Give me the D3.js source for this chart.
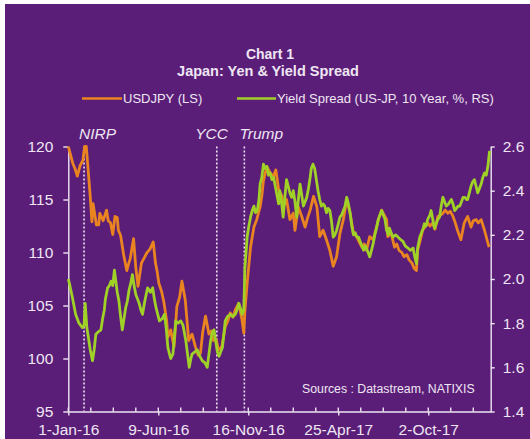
<!DOCTYPE html>
<html>
<head>
<meta charset="utf-8">
<script src="https://cdn.jsdelivr.net/npm/d3@7"></script>
<style>
  html, body { margin: 0; padding: 0; background: #5b1e78; }
  svg { display: block; }
  text { font-family: "Liberation Sans", Arial, sans-serif; }
</style>
</head>
<body>
<svg id="chart" width="530" height="439"></svg>
<script>
// ---------------- DATA ----------------
const titleLines = ["Chart 1", "Japan: Yen & Yield Spread"];
const seriesNames = ["USDJPY (LS)", "Yield Spread (US-JP, 10 Year, %, RS)"];
const sourceText = "Sources : Datastream, NATIXIS";

const usdDates = ["2016-01-01","2016-01-05","2016-01-09","2016-01-13","2016-01-17","2016-01-22","2016-01-27","2016-01-30","2016-02-02","2016-02-06","2016-02-09","2016-02-12","2016-02-14","2016-02-17","2016-02-20","2016-02-24","2016-02-26","2016-03-03","2016-03-09","2016-03-12","2016-03-16","2016-03-20","2016-03-24","2016-03-28","2016-03-30","2016-04-03","2016-04-08","2016-04-14","2016-04-17","2016-04-20","2016-04-26","2016-04-30","2016-05-04","2016-05-10","2016-05-15","2016-05-20","2016-05-25","2016-05-31","2016-06-04","2016-06-07","2016-06-10","2016-06-15","2016-06-19","2016-06-24","2016-06-26","2016-07-01","2016-07-07","2016-07-12","2016-07-17","2016-07-21","2016-07-27","2016-08-02","2016-08-08","2016-08-14","2016-08-19","2016-08-23","2016-08-27","2016-09-01","2016-09-07","2016-09-11","2016-09-15","2016-09-20","2016-09-24","2016-09-30","2016-10-06","2016-10-11","2016-10-15","2016-10-20","2016-10-24","2016-10-30","2016-11-05","2016-11-08","2016-11-10","2016-11-14","2016-11-20","2016-11-26","2016-12-01","2016-12-07","2016-12-10","2016-12-13","2016-12-19","2016-12-25","2016-12-31","2017-01-04","2017-01-09","2017-01-15","2017-01-17","2017-01-23","2017-01-29","2017-02-04","2017-02-07","2017-02-13","2017-02-19","2017-02-25","2017-03-01","2017-03-06","2017-03-12","2017-03-18","2017-03-23","2017-03-29","2017-04-04","2017-04-10","2017-04-16","2017-04-22","2017-04-28","2017-05-04","2017-05-10","2017-05-16","2017-05-22","2017-05-28","2017-06-01","2017-06-06","2017-06-10","2017-06-14","2017-06-20","2017-06-26","2017-07-02","2017-07-06","2017-07-11","2017-07-15","2017-07-20","2017-07-22","2017-07-28","2017-08-03","2017-08-07","2017-08-11","2017-08-16","2017-08-20","2017-08-25","2017-08-29","2017-09-03","2017-09-07","2017-09-11","2017-09-13","2017-09-17","2017-09-22","2017-09-26","2017-10-01","2017-10-05","2017-10-10","2017-10-14","2017-10-19","2017-10-23","2017-10-28","2017-11-01","2017-11-06","2017-11-10","2017-11-15","2017-11-19","2017-11-23","2017-11-29","2017-12-05","2017-12-11","2017-12-17","2017-12-21","2017-12-26","2017-12-30","2018-01-04","2018-01-10","2018-01-16","2018-01-18"];
const usdValues = [120.0,119.2,118.4,117.9,117.2,118.2,118.7,120.0,120.0,117.3,115.3,112.9,114.6,113.6,112.6,112.6,113.7,113.0,114.0,113.0,112.8,111.7,113.4,113.3,112.1,111.6,109.9,108.3,108.9,109.4,111.3,108.6,106.8,109.0,109.5,110.0,110.3,111.0,109.0,108.2,107.1,106.3,105.3,103.5,102.0,102.7,101.1,104.9,105.8,107.3,105.5,101.7,102.3,101.1,100.3,100.5,102.5,104.0,102.3,102.6,101.7,101.8,100.8,101.1,103.0,103.6,104.3,103.9,104.6,105.2,103.6,102.4,104.5,107.1,110.5,112.4,113.1,114.3,115.3,116.8,118.1,117.5,117.2,117.8,115.9,115.3,114.3,115.0,113.1,113.7,112.1,114.3,113.4,112.4,113.2,114.0,115.3,114.3,111.5,112.1,111.2,110.2,108.7,109.6,111.8,113.1,115.0,113.7,111.8,111.5,111.0,110.5,110.8,110.2,111.5,111.2,112.4,113.2,114.0,113.6,113.1,111.5,111.8,110.5,110.8,110.2,110.0,109.6,109.8,109.3,109.0,108.5,108.3,110.2,111.0,112.1,112.4,112.8,112.5,112.8,112.2,113.4,113.5,113.7,114.0,113.7,113.9,113.4,112.8,112.1,111.2,112.8,113.4,112.4,113.0,113.1,112.8,113.1,112.1,110.9,110.5];

const spreadDates = ["2016-01-01","2016-01-03","2016-01-08","2016-01-11","2016-01-14","2016-01-17","2016-01-20","2016-01-23","2016-01-26","2016-01-29","2016-01-31","2016-02-03","2016-02-06","2016-02-09","2016-02-13","2016-02-16","2016-02-19","2016-02-23","2016-02-28","2016-03-02","2016-03-05","2016-03-07","2016-03-11","2016-03-14","2016-03-17","2016-03-20","2016-03-23","2016-03-26","2016-03-28","2016-03-31","2016-04-03","2016-04-06","2016-04-09","2016-04-12","2016-04-15","2016-04-18","2016-04-21","2016-04-24","2016-04-27","2016-04-30","2016-05-03","2016-05-06","2016-05-09","2016-05-12","2016-05-16","2016-05-21","2016-05-26","2016-05-30","2016-06-02","2016-06-05","2016-06-08","2016-06-11","2016-06-16","2016-06-20","2016-06-23","2016-06-26","2016-06-29","2016-07-01","2016-07-05","2016-07-07","2016-07-10","2016-07-14","2016-07-19","2016-07-23","2016-07-28","2016-07-31","2016-08-03","2016-08-06","2016-08-08","2016-08-13","2016-08-17","2016-08-22","2016-08-26","2016-08-31","2016-09-04","2016-09-07","2016-09-10","2016-09-13","2016-09-16","2016-09-19","2016-09-22","2016-09-25","2016-09-28","2016-10-01","2016-10-04","2016-10-06","2016-10-10","2016-10-15","2016-10-19","2016-10-24","2016-10-27","2016-10-30","2016-11-03","2016-11-05","2016-11-08","2016-11-10","2016-11-12","2016-11-14","2016-11-17","2016-11-20","2016-11-23","2016-11-26","2016-11-29","2016-12-02","2016-12-05","2016-12-07","2016-12-10","2016-12-13","2016-12-16","2016-12-19","2016-12-22","2016-12-25","2016-12-28","2016-12-31","2017-01-03","2017-01-06","2017-01-09","2017-01-11","2017-01-14","2017-01-17","2017-01-20","2017-01-23","2017-01-26","2017-01-29","2017-02-01","2017-02-04","2017-02-07","2017-02-10","2017-02-13","2017-02-16","2017-02-19","2017-02-22","2017-02-25","2017-02-28","2017-03-03","2017-03-06","2017-03-08","2017-03-11","2017-03-14","2017-03-17","2017-03-20","2017-03-23","2017-03-26","2017-03-29","2017-04-01","2017-04-04","2017-04-07","2017-04-10","2017-04-13","2017-04-16","2017-04-19","2017-04-22","2017-04-25","2017-04-28","2017-05-01","2017-05-04","2017-05-07","2017-05-10","2017-05-13","2017-05-16","2017-05-19","2017-05-22","2017-05-25","2017-05-28","2017-05-31","2017-06-03","2017-06-06","2017-06-09","2017-06-12","2017-06-14","2017-06-17","2017-06-20","2017-06-23","2017-06-26","2017-06-29","2017-07-02","2017-07-05","2017-07-08","2017-07-11","2017-07-14","2017-07-17","2017-07-20","2017-07-23","2017-07-25","2017-07-28","2017-07-31","2017-08-05","2017-08-09","2017-08-13","2017-08-18","2017-08-22","2017-08-27","2017-08-31","2017-09-05","2017-09-08","2017-09-11","2017-09-13","2017-09-17","2017-09-20","2017-09-23","2017-09-25","2017-09-28","2017-10-01","2017-10-05","2017-10-07","2017-10-10","2017-10-13","2017-10-16","2017-10-19","2017-10-22","2017-10-25","2017-10-28","2017-10-31","2017-11-03","2017-11-07","2017-11-12","2017-11-15","2017-11-18","2017-11-21","2017-11-24","2017-11-27","2017-11-30","2017-12-03","2017-12-06","2017-12-09","2017-12-11","2017-12-14","2017-12-17","2017-12-20","2017-12-23","2017-12-26","2017-12-29","2018-01-01","2018-01-04","2018-01-07","2018-01-10","2018-01-13","2018-01-16","2018-01-19"];
const spreadValues = [2.00,1.98,1.92,1.88,1.84,1.82,1.80,1.79,1.78,1.79,1.89,1.78,1.73,1.68,1.63,1.68,1.75,1.76,1.77,1.82,1.86,1.91,1.96,1.97,1.99,1.97,2.04,1.98,1.94,1.90,1.83,1.77,1.82,1.87,1.90,1.95,1.98,2.02,1.97,1.93,1.91,1.89,1.86,1.84,1.90,1.96,1.94,1.96,1.91,1.87,1.84,1.81,1.82,1.84,1.78,1.69,1.66,1.64,1.66,1.72,1.81,1.80,1.81,1.79,1.72,1.66,1.60,1.64,1.66,1.67,1.68,1.65,1.63,1.62,1.60,1.66,1.72,1.76,1.77,1.72,1.67,1.65,1.67,1.69,1.76,1.81,1.83,1.84,1.83,1.84,1.86,1.89,1.86,1.84,1.86,2.05,2.12,2.19,2.24,2.28,2.31,2.33,2.30,2.31,2.36,2.43,2.46,2.52,2.50,2.51,2.47,2.48,2.45,2.46,2.42,2.38,2.34,2.40,2.35,2.28,2.37,2.45,2.42,2.39,2.37,2.40,2.35,2.28,2.36,2.43,2.38,2.33,2.35,2.37,2.41,2.46,2.50,2.52,2.50,2.45,2.40,2.36,2.33,2.34,2.33,2.30,2.32,2.31,2.26,2.19,2.20,2.22,2.25,2.28,2.29,2.31,2.33,2.37,2.34,2.30,2.24,2.20,2.21,2.19,2.19,2.17,2.15,2.13,2.15,2.14,2.12,2.10,2.13,2.16,2.20,2.23,2.27,2.29,2.31,2.29,2.27,2.22,2.20,2.23,2.21,2.19,2.20,2.19,2.18,2.17,2.15,2.14,2.13,2.14,2.10,2.07,2.14,2.19,2.21,2.23,2.25,2.24,2.27,2.29,2.31,2.27,2.23,2.25,2.27,2.28,2.33,2.37,2.35,2.33,2.34,2.36,2.34,2.31,2.32,2.33,2.33,2.35,2.37,2.37,2.36,2.36,2.39,2.42,2.44,2.45,2.42,2.39,2.41,2.43,2.46,2.48,2.47,2.51,2.58];

const leftTicks = [95, 100, 105, 110, 115, 120];
const rightTicks = [1.4, 1.6, 1.8, 2.0, 2.2, 2.4, 2.6];
const xTickDates = ["2016-01-01", "2016-06-09", "2016-11-16", "2017-04-25", "2017-10-02"];
const xDomain = ["2016-01-01", "2018-01-21"];
const events = [
  { date: "2016-01-29", label: "NIRP", anchor: "start" },
  { date: "2016-09-21", label: "YCC",  anchor: "end" },
  { date: "2016-11-09", label: "Trump", anchor: "start" }
];

// ---------------- DRAW ----------------
const parse = d3.utcParse("%Y-%m-%d");
const fmt = d3.utcFormat("%-d-%b-%y");
const usd = usdDates.map((d, i) => ({ date: parse(d), v: usdValues[i] }));
const spr = spreadDates.map((d, i) => ({ date: parse(d), v: spreadValues[i] }));

const BG = "#5b1e78";
const FG = "#eee6f3";
const ORANGE = "#ea8420";
const GREEN = "#9fd126";

const M = { left: 68.3, right: 490.7, top: 146.5, bottom: 411.5 };

const svg = d3.select("#chart");
svg.append("rect").attr("width", 530).attr("height", 439).attr("fill", BG);
svg.append("rect").attr("width", 530).attr("height", 4).attr("fill", "#ffffff");
svg.append("rect").attr("width", 5).attr("height", 439).attr("fill", "#ffffff");

const x = d3.scaleUtc().domain(xDomain.map(parse)).range([M.left, M.right]);
const yL = d3.scaleLinear().domain([95, 120]).range([M.bottom, M.top]);
const yR = d3.scaleLinear().domain([1.4, 2.6]).range([M.bottom, M.top]);

// Title
svg.append("text").attr("x", 270).attr("y", 59).attr("text-anchor", "middle")
  .attr("font-size", 14).attr("font-weight", "bold").attr("fill", FG).text(titleLines[0]);
svg.append("text").attr("x", 268).attr("y", 75.5).attr("text-anchor", "middle")
  .attr("font-size", 14.5).attr("font-weight", "bold").attr("fill", FG).text(titleLines[1]);

// Legend
const legend = [
  { x1: 82, x2: 122, color: ORANGE, name: seriesNames[0] },
  { x1: 237, x2: 276, color: GREEN, name: seriesNames[1] }
];
legend.forEach(l => {
  svg.append("line").attr("x1", l.x1).attr("x2", l.x2).attr("y1", 98.5).attr("y2", 98.5)
    .attr("stroke", l.color).attr("stroke-width", 2.5);
  svg.append("text").attr("x", l.x2 + 1).attr("y", 103).attr("font-size", 13)
    .attr("fill", FG).text(l.name);
});

// Axes
function styleAxis(g) {
  g.selectAll("path.domain").attr("stroke", FG).attr("stroke-width", 1.4);
  g.selectAll(".tick line").attr("stroke", FG).attr("stroke-width", 1.4);
  g.selectAll(".tick text").attr("fill", FG).attr("font-family", "Liberation Sans, Arial, sans-serif");
}
const gL = svg.append("g").attr("transform", `translate(${M.left},0)`)
  .call(d3.axisLeft(yL).tickValues(leftTicks).tickSize(5).tickSizeOuter(0).tickPadding(10).tickFormat(d3.format("d")));
gL.attr("font-size", 15.5); styleAxis(gL);

const gR = svg.append("g").attr("transform", `translate(${M.right},0)`)
  .call(d3.axisRight(yR).tickValues(rightTicks).tickSize(4).tickSizeOuter(0).tickPadding(8).tickFormat(d3.format(".1f")));
gR.attr("font-size", 15.5); styleAxis(gR);

const gB = svg.append("g").attr("transform", `translate(0,${M.bottom})`)
  .call(d3.axisBottom(x).tickValues(xTickDates.map(parse)).tickSize(4).tickSizeOuter(0).tickPadding(8).tickFormat(fmt));
gB.attr("font-size", 15.5); styleAxis(gB);

// minor ticks (every 40 days), pointing up into the plot
const minor = d3.range(0, 19).map(i => d3.utcDay.offset(parse(xDomain[0]), i * 40));
svg.append("g").selectAll("line").data(minor).join("line")
  .attr("x1", d => x(d)).attr("x2", d => x(d))
  .attr("y1", M.bottom).attr("y2", M.bottom - 4)
  .attr("stroke", FG).attr("stroke-width", 1.4);

// Event lines
events.forEach(e => {
  const ex = x(parse(e.date));
  svg.append("line").attr("x1", ex).attr("x2", ex).attr("y1", M.top).attr("y2", M.bottom)
    .attr("stroke", "#ece0f4").attr("stroke-width", 1.6).attr("stroke-dasharray", "2,2");
});
const evLabelX = { NIRP: 79, YCC: 228, Trump: 239.5 };
events.forEach(e => {
  svg.append("text").attr("x", evLabelX[e.label]).attr("y", 138.5)
    .attr("text-anchor", e.anchor).attr("font-size", 15.5).attr("font-style", "italic")
    .attr("fill", FG).text(e.label);
});

// Lines
const lineL = d3.line().x(d => x(d.date)).y(d => yL(d.v));
const lineR = d3.line().x(d => x(d.date)).y(d => yR(d.v));
svg.append("path").datum(usd).attr("d", lineL).attr("fill", "none")
  .attr("stroke", ORANGE).attr("stroke-width", 2.8).attr("stroke-linejoin", "round");
svg.append("path").datum(spr).attr("d", lineR).attr("fill", "none")
  .attr("stroke", GREEN).attr("stroke-width", 2.8).attr("stroke-linejoin", "round");

// Source
svg.append("text").attr("x", 302).attr("y", 393).attr("font-size", 12.3)
  .attr("fill", FG).text(sourceText);
</script>
</body>
</html>
